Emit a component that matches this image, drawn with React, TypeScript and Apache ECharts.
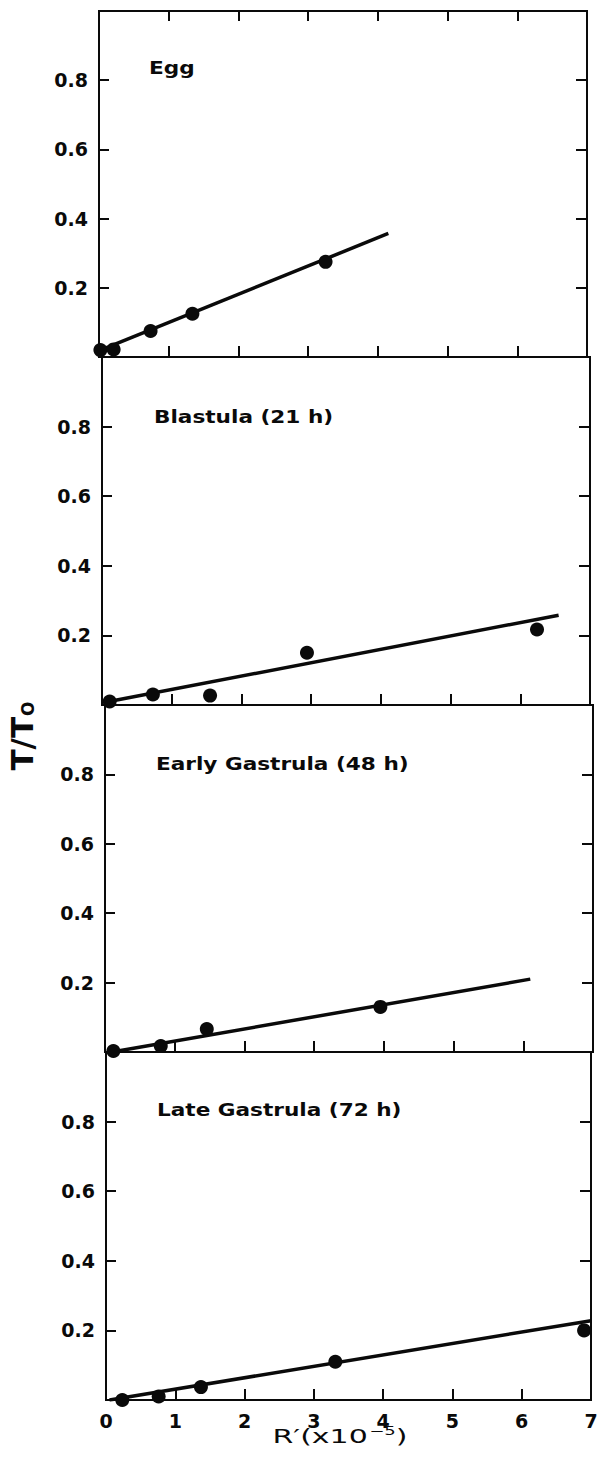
import React, { useEffect, useRef } from "react";
import * as echarts from "echarts";

// ---- data ----
const panelNames = ["Egg", "Blastula (21 h)", "Early Gastrula (48 h)", "Late Gastrula (72 h)"];

const eggX = [0.02, 0.21, 0.74, 1.34, 3.25];
const eggY = [0.02, 0.022, 0.075, 0.125, 0.275];
const eggFitX = [0.02, 4.15];
const eggFitY = [0.02, 0.357];

const blastX = [0.11, 0.73, 1.55, 2.94, 6.24];
const blastY = [0.01, 0.03, 0.027, 0.15, 0.217];
const blastFitX = [0.1, 6.55];
const blastFitY = [0.01, 0.258];

const earlyX = [0.12, 0.8, 1.46, 3.95];
const earlyY = [0.003, 0.017, 0.066, 0.13];
const earlyFitX = [0.1, 6.1];
const earlyFitY = [0.0, 0.21];

const lateX = [0.235, 0.76, 1.37, 3.31, 6.9];
const lateY = [0.0, 0.01, 0.037, 0.11, 0.2];
const lateFitX = [0.05, 7.0];
const lateFitY = [0.0, 0.228];

const xMin = 0;
const xMax = 7;
const xStep = 1;
const yMin = 0;
const yMax = 1;
const yStep = 0.2;

const pointsX = [eggX, blastX, earlyX, lateX];
const pointsY = [eggY, blastY, earlyY, lateY];
const fitsX = [eggFitX, blastFitX, earlyFitX, lateFitX];
const fitsY = [eggFitY, blastFitY, earlyFitY, lateFitY];

// ---- layout ----
const gridLeft = [99, 102, 105, 106];
const gridTop = [11, 357, 705, 1052];
const gridHeight = [346, 348, 347, 348];
const gridWidth = [488, 488, 488, 485];
const labelX = [149, 154, 156, 157];
const labelY = [68, 417, 764, 1110];

const INK = "#0a0a0a";
const FONT = '"DejaVu Sans", "Liberation Sans", sans-serif';

function pairs(xs: number[], ys: number[]) {
  return xs.map((v, k) => [v, ys[k]]);
}

export default function App() {
  const ref = useRef<HTMLDivElement>(null);

  useEffect(() => {
    if (!ref.current) return;
    const chart = echarts.init(ref.current, undefined, { renderer: "svg" });

    const grids: any[] = [];
    const xAxes: any[] = [];
    const yAxes: any[] = [];
    const series: any[] = [];
    const graphics: any[] = [];

    const line2 = { color: INK, width: 2 };
    const addGrid = (i: number, border: boolean) => {
      grids.push({
        left: gridLeft[i],
        top: gridTop[i],
        width: gridWidth[i],
        height: gridHeight[i],
        containLabel: false,
        outerBoundsMode: "none",
        show: border,
        borderColor: INK,
        borderWidth: 2,
        backgroundColor: "transparent",
      });
      return grids.length - 1;
    };

    for (let i = 0; i < 4; i++) {
      // main panel: bottom x axis + left y axis
      const g = addGrid(i, true);
      const bottomIdx = xAxes.length;
      xAxes.push({
        type: "value",
        gridIndex: g,
        position: "bottom",
        min: xMin,
        max: xMax,
        interval: xStep,
        axisLine: { show: true, onZero: false, lineStyle: line2 },
        axisTick: { show: true, inside: true, length: 11, lineStyle: line2 },
        axisLabel: {
          show: i === 3,
          margin: 11,
          color: INK,
          fontFamily: FONT,
          fontWeight: "bold",
          fontSize: 19,
        },
        splitLine: { show: false },
      });
      const leftIdx = yAxes.length;
      yAxes.push({
        type: "value",
        gridIndex: g,
        position: "left",
        min: yMin,
        max: yMax,
        interval: yStep,
        axisLine: { show: true, onZero: false, lineStyle: line2 },
        axisTick: { show: true, inside: true, length: 10, lineStyle: line2 },
        axisLabel: {
          show: true,
          margin: 11,
          color: INK,
          fontFamily: FONT,
          fontWeight: "bold",
          fontSize: 19,
          formatter: (v: number) => (v <= yMin + 1e-9 || v >= yMax - 1e-9 ? "" : v.toFixed(1)),
        },
        splitLine: { show: false },
      });

      // overlay: right y axis with inner ticks
      const gr = addGrid(i, false);
      xAxes.push({ type: "value", gridIndex: gr, min: xMin, max: xMax, interval: xStep, show: false });
      yAxes.push({
        type: "value",
        gridIndex: gr,
        position: "right",
        min: yMin,
        max: yMax,
        interval: yStep,
        axisLine: { show: true, onZero: false, lineStyle: line2 },
        axisTick: { show: true, inside: true, length: 11, lineStyle: line2 },
        axisLabel: { show: false },
        splitLine: { show: false },
      });

      // overlay: top x axis with inner ticks (first panel only)
      if (i === 0) {
        const gt = addGrid(i, false);
        xAxes.push({
          type: "value",
          gridIndex: gt,
          position: "top",
          min: xMin,
          max: xMax,
          interval: xStep,
          axisLine: { show: true, onZero: false, lineStyle: line2 },
          axisTick: { show: true, inside: true, length: 10, lineStyle: line2 },
          axisLabel: { show: false },
          splitLine: { show: false },
        });
        yAxes.push({ type: "value", gridIndex: gt, min: yMin, max: yMax, interval: yStep, show: false });
      }

      series.push({
        type: "line",
        xAxisIndex: bottomIdx,
        yAxisIndex: leftIdx,
        data: pairs(fitsX[i], fitsY[i]),
        showSymbol: false,
        symbol: "none",
        lineStyle: { color: INK, width: 3.5 },
        z: 3,
      });
      series.push({
        type: "scatter",
        xAxisIndex: bottomIdx,
        yAxisIndex: leftIdx,
        data: pairs(pointsX[i], pointsY[i]),
        symbol: "circle",
        symbolSize: 14,
        itemStyle: { color: INK, opacity: 1 },
        z: 4,
      });

      graphics.push({
        type: "text",
        x: labelX[i],
        y: labelY[i],
        scaleX: 1.2,
        style: {
          text: panelNames[i],
          fill: INK,
          font: `bold 18px ${FONT}`,
          textAlign: "left",
          textVerticalAlign: "middle",
        },
      });
    }

    // x axis title
    graphics.push({
      type: "text",
      x: 340,
      y: 1436,
      scaleX: 1.5,
      style: {
        text: "{a|R′(x10}{s|−5}{a|)}",
        fill: INK,
        textAlign: "center",
        textVerticalAlign: "middle",
        rich: {
          a: { fontFamily: FONT, fontSize: 20, fill: INK, lineHeight: 24 },
          s: { fontFamily: FONT, fontSize: 12, fill: INK, lineHeight: 24, padding: [0, 0, 10, 1] },
        },
      },
    });

    // y axis title
    graphics.push({
      type: "text",
      x: 22,
      y: 736,
      rotation: Math.PI / 2,
      style: {
        text: "{a|T/T}{s|O}",
        fill: INK,
        textAlign: "center",
        textVerticalAlign: "middle",
        rich: {
          a: { fontFamily: FONT, fontSize: 31, fontWeight: "bold", fill: INK, lineHeight: 36 },
          s: { fontFamily: FONT, fontSize: 17, fontWeight: "bold", fill: INK, lineHeight: 36, padding: [12, 0, 0, 1] },
        },
      },
    });

    chart.setOption({
      animation: false,
      backgroundColor: "#ffffff",
      grid: grids,
      xAxis: xAxes,
      yAxis: yAxes,
      series,
      graphic: graphics,
    });

    return () => {
      chart.dispose();
    };
  }, []);

  return (
    <div
      ref={ref}
      style={{ position: "absolute", left: 0, top: 0, width: 599, height: 1468, background: "#fff" }}
    />
  );
}
